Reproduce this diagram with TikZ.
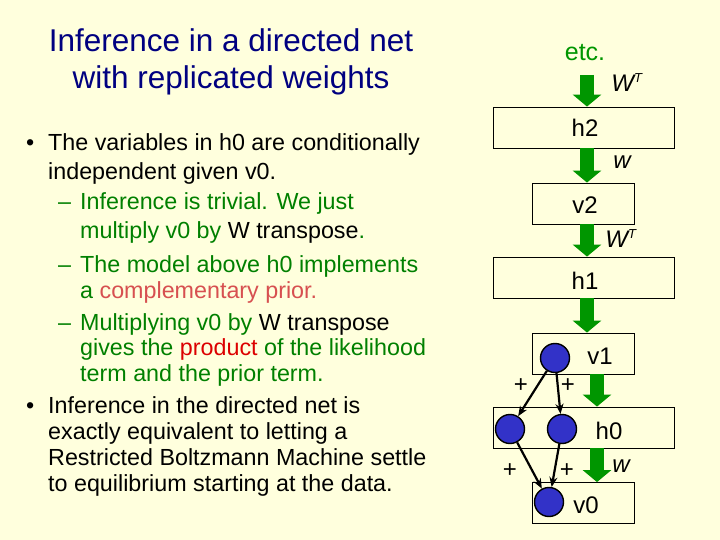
\documentclass[tikz,border=0pt]{standalone}
\usepackage{fontspec}
\setmainfont{Liberation Sans}
\usetikzlibrary{arrows.meta}
\definecolor{bg}{RGB}{255,255,221}
\definecolor{tblue}{RGB}{0,0,128}
\definecolor{tgreen}{RGB}{0,128,0}
\definecolor{agreen}{RGB}{0,150,0}
\definecolor{pink}{RGB}{215,80,80}
\definecolor{dred}{RGB}{220,0,0}
\definecolor{ublue}{RGB}{50,50,200}
\begin{document}
\begin{tikzpicture}[x=1pt,y=-1pt,
  txt/.style={anchor=base west,inner sep=0pt,font=\fontsize{23.3}{24}\selectfont},
  box/.style={draw=black,fill=bg,line width=0.8pt,minimum height=41pt,inner sep=0pt},
  unit/.style={circle,draw=black,line width=1.4pt,fill=ublue,minimum size=29pt,inner sep=0pt},
  lab/.style={font=\fontsize{24}{26}\selectfont},
  big/.style={-{Triangle[width=28pt,length=12pt]},agreen,line width=14pt},
  con/.style={-{Stealth[length=10pt,width=8pt]},line width=2.2pt},
  wl/.style={font=\fontsize{24}{26}\selectfont\itshape,inner sep=0pt},
  pl/.style={font=\fontsize{24}{26}\selectfont,inner sep=0pt}]
\fill[bg] (0,0) rectangle (720,540);
\useasboundingbox (0,0) rectangle (720,540);
% title
\node[tblue,font=\fontsize{31.5}{37}\selectfont,align=center] (title) at (231,62) {Inference in a directed net\\with replicated weights};
% text
\node[txt] (b1) at (26,151) {•};
\node[txt] (l1) at (48,151) {The variables in h0 are conditionally};
\node[txt] (l2) at (48,180) {independent given v0.};
\node[txt,tgreen] (d1) at (58,210) {–};
\node[txt,tgreen] (l3) at (80,210) {Inference is trivial. We just};
\node[txt,tgreen] (l4) at (80,239) {multiply v0 by \textcolor{black}{W transpose}.};
\node[txt,tgreen] (d2) at (58,272) {–};
\node[txt,tgreen] (l5) at (80,272) {The model above h0 implements};
\node[txt,tgreen] (l6) at (80,298) {a \textcolor{pink}{complementary prior.}};
\node[txt,tgreen] (d3) at (58,330) {–};
\node[txt,tgreen] (l7) at (80,330) {Multiplying v0 by \textcolor{black}{W transpose}};
\node[txt,tgreen] (l8) at (80,355) {gives the \textcolor{dred}{product} of the likelihood};
\node[txt,tgreen] (l9) at (80,381) {term and the prior term.};
\node[txt] (b2) at (26,413) {•};
\node[txt] (l10) at (48,413) {Inference in the directed net is};
\node[txt] (l11) at (48,439) {exactly equivalent to letting a};
\node[txt] (l12) at (48,465) {Restricted Boltzmann Machine settle};
\node[txt] (l13) at (48,491) {to equilibrium starting at the data.};
% stack
\node[agreen,font=\fontsize{25}{26}\selectfont] (etc) at (585,53) {etc.};
\node[box,minimum width=181pt] (h2) at (583.5,127.5) {};
\node[lab] at (585,128) {h2};
\node[box,minimum width=102pt] (v2) at (583,203.5) {};
\node[lab] at (585,205) {v2};
\node[box,minimum width=181pt] (h1) at (583.5,277.5) {};
\node[lab] at (585,281) {h1};
\node[box,minimum width=102pt] (v1) at (583,353.5) {};
\node[lab] at (600,356) {v1};
\node[box,minimum width=181pt] (h0) at (583.5,427.5) {};
\node[lab] at (609,431) {h0};
\node[box,minimum width=102pt] (v0) at (583,503) {};
\node[lab] at (586,505) {v0};
\coordinate (a0) at (587,75);
\draw[big] (a0) -- (h2.north -| a0);
\draw[big] (h2.south -| a0) -- (v2.north -| a0);
\draw[big] (v2.south -| a0) -- (h1.north -| a0);
\draw[big] (h1.south -| a0) -- (v1.north -| a0);
\coordinate (a1) at (597,0);
\draw[big] (v1.south -| a1) -- (h0.north -| a1);
\draw[big] (h0.south -| a1) -- (v0.north -| a1);
\node[wl] at (627,83) {W\textsuperscript{\fontsize{13}{14}\selectfont T}};
\node[wl] at (622,162) {w};
\node[wl] at (621,239) {W\textsuperscript{\fontsize{13}{14}\selectfont T}};
\node[wl] at (621,466) {w};
% units
\node[unit] (u1) at (555,358) {};
\node[unit] (u2) at (510,429) {};
\node[unit] (u3) at (562,429) {};
\node[unit] (u4) at (549,502) {};
\draw[con] (u1) -- (u2);
\draw[con] (u1) -- (u3);
\draw[con] (u2) -- (u4);
\draw[con] (u3) -- (u4);
\node[pl] at (521,386) {+};
\node[pl] at (568,386) {+};
\node[pl] at (510,471) {+};
\node[pl] at (567,471) {+};
\end{tikzpicture}
\end{document}
